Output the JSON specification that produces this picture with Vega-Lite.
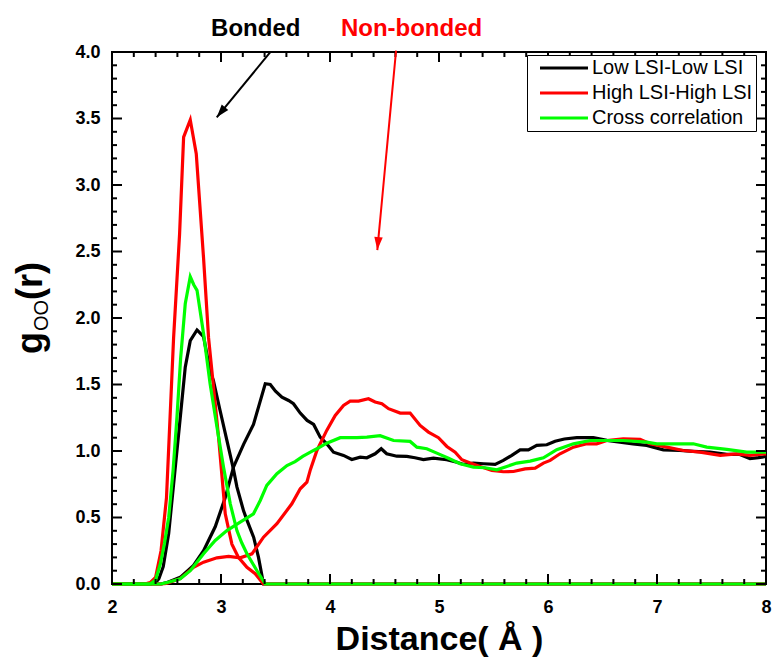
{
  "$schema": "https://vega.github.io/schema/vega-lite/v6.json",
  "width": 654,
  "height": 532,
  "autosize": {"type": "none"},
  "padding": {"left": 112, "top": 52, "right": 9, "bottom": 75},
  "background": "white",
  "datasets": {
    "xmajor": [{"v":2},{"v":3},{"v":4},{"v":5},{"v":6},{"v":7},{"v":8}],
    "xminor": [{"v":2.2},{"v":2.4},{"v":2.6},{"v":2.8},{"v":3.2},{"v":3.4},{"v":3.6},{"v":3.8},{"v":4.2},{"v":4.4},{"v":4.6},{"v":4.8},{"v":5.2},{"v":5.4},{"v":5.6},{"v":5.8},{"v":6.2},{"v":6.4},{"v":6.6},{"v":6.8},{"v":7.2},{"v":7.4},{"v":7.6},{"v":7.8}],
    "ymajor": [{"v":0},{"v":0.5},{"v":1},{"v":1.5},{"v":2},{"v":2.5},{"v":3},{"v":3.5},{"v":4}],
    "yminor": [{"v":0.1},{"v":0.2},{"v":0.3},{"v":0.4},{"v":0.6},{"v":0.7},{"v":0.8},{"v":0.9},{"v":1.1},{"v":1.2},{"v":1.3},{"v":1.4},{"v":1.6},{"v":1.7},{"v":1.8},{"v":1.9},{"v":2.1},{"v":2.2},{"v":2.3},{"v":2.4},{"v":2.6},{"v":2.7},{"v":2.8},{"v":2.9},{"v":3.1},{"v":3.2},{"v":3.3},{"v":3.4},{"v":3.6},{"v":3.7},{"v":3.8},{"v":3.9}],
    "curves": [
      {"series":"Low LSI-Low LSI","kind":"b","x":2.0,"y":0},{"series":"Low LSI-Low LSI","kind":"b","x":2.35,"y":0},{"series":"Low LSI-Low LSI","kind":"b","x":2.40,"y":0.01},{"series":"Low LSI-Low LSI","kind":"b","x":2.43,"y":0.04},{"series":"Low LSI-Low LSI","kind":"b","x":2.47,"y":0.13},{"series":"Low LSI-Low LSI","kind":"b","x":2.52,"y":0.38},{"series":"Low LSI-Low LSI","kind":"b","x":2.565,"y":0.75},{"series":"Low LSI-Low LSI","kind":"b","x":2.62,"y":1.2},{"series":"Low LSI-Low LSI","kind":"b","x":2.672,"y":1.63},{"series":"Low LSI-Low LSI","kind":"b","x":2.718,"y":1.83},{"series":"Low LSI-Low LSI","kind":"b","x":2.78,"y":1.91},{"series":"Low LSI-Low LSI","kind":"b","x":2.84,"y":1.86},{"series":"Low LSI-Low LSI","kind":"b","x":2.90,"y":1.6},{"series":"Low LSI-Low LSI","kind":"b","x":2.93,"y":1.53},{"series":"Low LSI-Low LSI","kind":"b","x":2.99,"y":1.31},{"series":"Low LSI-Low LSI","kind":"b","x":3.054,"y":1.08},{"series":"Low LSI-Low LSI","kind":"b","x":3.115,"y":0.86},{"series":"Low LSI-Low LSI","kind":"b","x":3.146,"y":0.73},{"series":"Low LSI-Low LSI","kind":"b","x":3.207,"y":0.55},{"series":"Low LSI-Low LSI","kind":"b","x":3.238,"y":0.48},{"series":"Low LSI-Low LSI","kind":"b","x":3.30,"y":0.35},{"series":"Low LSI-Low LSI","kind":"b","x":3.344,"y":0.2},{"series":"Low LSI-Low LSI","kind":"b","x":3.39,"y":0},{"series":"Low LSI-Low LSI","kind":"b","x":8.0,"y":0},
      {"series":"Low LSI-Low LSI","kind":"n","x":2.0,"y":0},{"series":"Low LSI-Low LSI","kind":"n","x":2.45,"y":0},{"series":"Low LSI-Low LSI","kind":"n","x":2.5,"y":0.01},{"series":"Low LSI-Low LSI","kind":"n","x":2.626,"y":0.05},{"series":"Low LSI-Low LSI","kind":"n","x":2.748,"y":0.14},{"series":"Low LSI-Low LSI","kind":"n","x":2.84,"y":0.25},{"series":"Low LSI-Low LSI","kind":"n","x":2.947,"y":0.43},{"series":"Low LSI-Low LSI","kind":"n","x":3.039,"y":0.65},{"series":"Low LSI-Low LSI","kind":"n","x":3.115,"y":0.88},{"series":"Low LSI-Low LSI","kind":"n","x":3.207,"y":1.05},{"series":"Low LSI-Low LSI","kind":"n","x":3.298,"y":1.2},{"series":"Low LSI-Low LSI","kind":"n","x":3.344,"y":1.33},{"series":"Low LSI-Low LSI","kind":"n","x":3.406,"y":1.506},{"series":"Low LSI-Low LSI","kind":"n","x":3.452,"y":1.5},{"series":"Low LSI-Low LSI","kind":"n","x":3.5,"y":1.45},{"series":"Low LSI-Low LSI","kind":"n","x":3.559,"y":1.405},{"series":"Low LSI-Low LSI","kind":"n","x":3.62,"y":1.38},{"series":"Low LSI-Low LSI","kind":"n","x":3.665,"y":1.355},{"series":"Low LSI-Low LSI","kind":"n","x":3.727,"y":1.285},{"series":"Low LSI-Low LSI","kind":"n","x":3.79,"y":1.23},{"series":"Low LSI-Low LSI","kind":"n","x":3.85,"y":1.2},{"series":"Low LSI-Low LSI","kind":"n","x":3.91,"y":1.104},{"series":"Low LSI-Low LSI","kind":"n","x":3.97,"y":1.054},{"series":"Low LSI-Low LSI","kind":"n","x":4.032,"y":0.991},{"series":"Low LSI-Low LSI","kind":"n","x":4.124,"y":0.967},{"series":"Low LSI-Low LSI","kind":"n","x":4.2,"y":0.936},{"series":"Low LSI-Low LSI","kind":"n","x":4.277,"y":0.954},{"series":"Low LSI-Low LSI","kind":"n","x":4.338,"y":0.949},{"series":"Low LSI-Low LSI","kind":"n","x":4.414,"y":0.979},{"series":"Low LSI-Low LSI","kind":"n","x":4.47,"y":1.017},{"series":"Low LSI-Low LSI","kind":"n","x":4.52,"y":0.979},{"series":"Low LSI-Low LSI","kind":"n","x":4.613,"y":0.961},{"series":"Low LSI-Low LSI","kind":"n","x":4.705,"y":0.959},{"series":"Low LSI-Low LSI","kind":"n","x":4.78,"y":0.949},{"series":"Low LSI-Low LSI","kind":"n","x":4.857,"y":0.936},{"series":"Low LSI-Low LSI","kind":"n","x":4.949,"y":0.946},{"series":"Low LSI-Low LSI","kind":"n","x":5.07,"y":0.934},{"series":"Low LSI-Low LSI","kind":"n","x":5.164,"y":0.916},{"series":"Low LSI-Low LSI","kind":"n","x":5.225,"y":0.899},{"series":"Low LSI-Low LSI","kind":"n","x":5.316,"y":0.909},{"series":"Low LSI-Low LSI","kind":"n","x":5.41,"y":0.904},{"series":"Low LSI-Low LSI","kind":"n","x":5.515,"y":0.899},{"series":"Low LSI-Low LSI","kind":"n","x":5.59,"y":0.929},{"series":"Low LSI-Low LSI","kind":"n","x":5.668,"y":0.967},{"series":"Low LSI-Low LSI","kind":"n","x":5.744,"y":1.009},{"series":"Low LSI-Low LSI","kind":"n","x":5.82,"y":1.009},{"series":"Low LSI-Low LSI","kind":"n","x":5.897,"y":1.042},{"series":"Low LSI-Low LSI","kind":"n","x":5.989,"y":1.047},{"series":"Low LSI-Low LSI","kind":"n","x":6.065,"y":1.074},{"series":"Low LSI-Low LSI","kind":"n","x":6.15,"y":1.09},{"series":"Low LSI-Low LSI","kind":"n","x":6.264,"y":1.1},{"series":"Low LSI-Low LSI","kind":"n","x":6.416,"y":1.1},{"series":"Low LSI-Low LSI","kind":"n","x":6.54,"y":1.08},{"series":"Low LSI-Low LSI","kind":"n","x":6.66,"y":1.067},{"series":"Low LSI-Low LSI","kind":"n","x":6.78,"y":1.054},{"series":"Low LSI-Low LSI","kind":"n","x":6.906,"y":1.042},{"series":"Low LSI-Low LSI","kind":"n","x":7.058,"y":1.009},{"series":"Low LSI-Low LSI","kind":"n","x":7.21,"y":1.004},{"series":"Low LSI-Low LSI","kind":"n","x":7.333,"y":0.997},{"series":"Low LSI-Low LSI","kind":"n","x":7.486,"y":0.991},{"series":"Low LSI-Low LSI","kind":"n","x":7.64,"y":0.974},{"series":"Low LSI-Low LSI","kind":"n","x":7.76,"y":0.974},{"series":"Low LSI-Low LSI","kind":"n","x":7.853,"y":0.942},{"series":"Low LSI-Low LSI","kind":"n","x":7.93,"y":0.95},{"series":"Low LSI-Low LSI","kind":"n","x":8.0,"y":0.959},
      {"series":"High LSI-High LSI","kind":"b","x":2.0,"y":0},{"series":"High LSI-High LSI","kind":"b","x":2.3,"y":0},{"series":"High LSI-High LSI","kind":"b","x":2.35,"y":0.01},{"series":"High LSI-High LSI","kind":"b","x":2.4,"y":0.05},{"series":"High LSI-High LSI","kind":"b","x":2.45,"y":0.25},{"series":"High LSI-High LSI","kind":"b","x":2.5,"y":0.65},{"series":"High LSI-High LSI","kind":"b","x":2.565,"y":1.85},{"series":"High LSI-High LSI","kind":"b","x":2.62,"y":2.63},{"series":"High LSI-High LSI","kind":"b","x":2.657,"y":3.36},{"series":"High LSI-High LSI","kind":"b","x":2.718,"y":3.49},{"series":"High LSI-High LSI","kind":"b","x":2.773,"y":3.236},{"series":"High LSI-High LSI","kind":"b","x":2.84,"y":2.45},{"series":"High LSI-High LSI","kind":"b","x":2.886,"y":1.85},{"series":"High LSI-High LSI","kind":"b","x":2.978,"y":1.1},{"series":"High LSI-High LSI","kind":"b","x":3.039,"y":0.528},{"series":"High LSI-High LSI","kind":"b","x":3.1,"y":0.3},{"series":"High LSI-High LSI","kind":"b","x":3.16,"y":0.2},{"series":"High LSI-High LSI","kind":"b","x":3.238,"y":0.126},{"series":"High LSI-High LSI","kind":"b","x":3.314,"y":0.077},{"series":"High LSI-High LSI","kind":"b","x":3.36,"y":0.03},{"series":"High LSI-High LSI","kind":"b","x":3.39,"y":0},{"series":"High LSI-High LSI","kind":"b","x":8.0,"y":0},
      {"series":"High LSI-High LSI","kind":"n","x":2.0,"y":0},{"series":"High LSI-High LSI","kind":"n","x":2.45,"y":0},{"series":"High LSI-High LSI","kind":"n","x":2.5,"y":0.005},{"series":"High LSI-High LSI","kind":"n","x":2.626,"y":0.04},{"series":"High LSI-High LSI","kind":"n","x":2.748,"y":0.126},{"series":"High LSI-High LSI","kind":"n","x":2.84,"y":0.164},{"series":"High LSI-High LSI","kind":"n","x":2.963,"y":0.197},{"series":"High LSI-High LSI","kind":"n","x":3.07,"y":0.207},{"series":"High LSI-High LSI","kind":"n","x":3.176,"y":0.197},{"series":"High LSI-High LSI","kind":"n","x":3.284,"y":0.227},{"series":"High LSI-High LSI","kind":"n","x":3.39,"y":0.352},{"series":"High LSI-High LSI","kind":"n","x":3.513,"y":0.453},{"series":"High LSI-High LSI","kind":"n","x":3.65,"y":0.603},{"series":"High LSI-High LSI","kind":"n","x":3.727,"y":0.716},{"series":"High LSI-High LSI","kind":"n","x":3.788,"y":0.766},{"series":"High LSI-High LSI","kind":"n","x":3.82,"y":0.86},{"series":"High LSI-High LSI","kind":"n","x":3.88,"y":1.004},{"series":"High LSI-High LSI","kind":"n","x":3.97,"y":1.155},{"series":"High LSI-High LSI","kind":"n","x":4.048,"y":1.267},{"series":"High LSI-High LSI","kind":"n","x":4.124,"y":1.343},{"series":"High LSI-High LSI","kind":"n","x":4.185,"y":1.375},{"series":"High LSI-High LSI","kind":"n","x":4.262,"y":1.375},{"series":"High LSI-High LSI","kind":"n","x":4.353,"y":1.393},{"series":"High LSI-High LSI","kind":"n","x":4.414,"y":1.368},{"series":"High LSI-High LSI","kind":"n","x":4.476,"y":1.355},{"series":"High LSI-High LSI","kind":"n","x":4.537,"y":1.318},{"series":"High LSI-High LSI","kind":"n","x":4.644,"y":1.285},{"series":"High LSI-High LSI","kind":"n","x":4.735,"y":1.285},{"series":"High LSI-High LSI","kind":"n","x":4.827,"y":1.192},{"series":"High LSI-High LSI","kind":"n","x":4.903,"y":1.142},{"series":"High LSI-High LSI","kind":"n","x":4.995,"y":1.1},{"series":"High LSI-High LSI","kind":"n","x":5.072,"y":1.034},{"series":"High LSI-High LSI","kind":"n","x":5.148,"y":0.991},{"series":"High LSI-High LSI","kind":"n","x":5.21,"y":0.934},{"series":"High LSI-High LSI","kind":"n","x":5.286,"y":0.909},{"series":"High LSI-High LSI","kind":"n","x":5.377,"y":0.884},{"series":"High LSI-High LSI","kind":"n","x":5.485,"y":0.854},{"series":"High LSI-High LSI","kind":"n","x":5.59,"y":0.844},{"series":"High LSI-High LSI","kind":"n","x":5.683,"y":0.846},{"series":"High LSI-High LSI","kind":"n","x":5.79,"y":0.866},{"series":"High LSI-High LSI","kind":"n","x":5.882,"y":0.871},{"series":"High LSI-High LSI","kind":"n","x":5.958,"y":0.909},{"series":"High LSI-High LSI","kind":"n","x":6.02,"y":0.929},{"series":"High LSI-High LSI","kind":"n","x":6.11,"y":0.979},{"series":"High LSI-High LSI","kind":"n","x":6.233,"y":1.029},{"series":"High LSI-High LSI","kind":"n","x":6.356,"y":1.054},{"series":"High LSI-High LSI","kind":"n","x":6.447,"y":1.054},{"series":"High LSI-High LSI","kind":"n","x":6.54,"y":1.079},{"series":"High LSI-High LSI","kind":"n","x":6.69,"y":1.092},{"series":"High LSI-High LSI","kind":"n","x":6.845,"y":1.087},{"series":"High LSI-High LSI","kind":"n","x":6.936,"y":1.054},{"series":"High LSI-High LSI","kind":"n","x":7.09,"y":1.029},{"series":"High LSI-High LSI","kind":"n","x":7.242,"y":1.004},{"series":"High LSI-High LSI","kind":"n","x":7.395,"y":0.991},{"series":"High LSI-High LSI","kind":"n","x":7.58,"y":0.967},{"series":"High LSI-High LSI","kind":"n","x":7.73,"y":0.979},{"series":"High LSI-High LSI","kind":"n","x":7.854,"y":0.967},{"series":"High LSI-High LSI","kind":"n","x":8.0,"y":0.979},
      {"series":"Cross correlation","kind":"b","x":2.0,"y":0},{"series":"Cross correlation","kind":"b","x":2.35,"y":0},{"series":"Cross correlation","kind":"b","x":2.4,"y":0.03},{"series":"Cross correlation","kind":"b","x":2.443,"y":0.15},{"series":"Cross correlation","kind":"b","x":2.48,"y":0.3},{"series":"Cross correlation","kind":"b","x":2.52,"y":0.5},{"series":"Cross correlation","kind":"b","x":2.56,"y":0.85},{"series":"Cross correlation","kind":"b","x":2.596,"y":1.255},{"series":"Cross correlation","kind":"b","x":2.63,"y":1.7},{"series":"Cross correlation","kind":"b","x":2.672,"y":2.107},{"series":"Cross correlation","kind":"b","x":2.718,"y":2.31},{"series":"Cross correlation","kind":"b","x":2.75,"y":2.25},{"series":"Cross correlation","kind":"b","x":2.78,"y":2.208},{"series":"Cross correlation","kind":"b","x":2.84,"y":1.882},{"series":"Cross correlation","kind":"b","x":2.9,"y":1.506},{"series":"Cross correlation","kind":"b","x":2.963,"y":1.18},{"series":"Cross correlation","kind":"b","x":3.023,"y":0.879},{"series":"Cross correlation","kind":"b","x":3.085,"y":0.603},{"series":"Cross correlation","kind":"b","x":3.146,"y":0.402},{"series":"Cross correlation","kind":"b","x":3.19,"y":0.31},{"series":"Cross correlation","kind":"b","x":3.238,"y":0.227},{"series":"Cross correlation","kind":"b","x":3.33,"y":0.1},{"series":"Cross correlation","kind":"b","x":3.406,"y":0},{"series":"Cross correlation","kind":"b","x":8.0,"y":0},
      {"series":"Cross correlation","kind":"n","x":2.0,"y":0},{"series":"Cross correlation","kind":"n","x":2.45,"y":0},{"series":"Cross correlation","kind":"n","x":2.5,"y":0.01},{"series":"Cross correlation","kind":"n","x":2.626,"y":0.04},{"series":"Cross correlation","kind":"n","x":2.718,"y":0.1},{"series":"Cross correlation","kind":"n","x":2.84,"y":0.227},{"series":"Cross correlation","kind":"n","x":2.947,"y":0.327},{"series":"Cross correlation","kind":"n","x":3.054,"y":0.402},{"series":"Cross correlation","kind":"n","x":3.176,"y":0.465},{"series":"Cross correlation","kind":"n","x":3.298,"y":0.528},{"series":"Cross correlation","kind":"n","x":3.36,"y":0.628},{"series":"Cross correlation","kind":"n","x":3.42,"y":0.741},{"series":"Cross correlation","kind":"n","x":3.513,"y":0.829},{"series":"Cross correlation","kind":"n","x":3.605,"y":0.891},{"series":"Cross correlation","kind":"n","x":3.68,"y":0.92},{"series":"Cross correlation","kind":"n","x":3.75,"y":0.96},{"series":"Cross correlation","kind":"n","x":3.849,"y":1.004},{"series":"Cross correlation","kind":"n","x":3.88,"y":1.017},{"series":"Cross correlation","kind":"n","x":3.97,"y":1.059},{"series":"Cross correlation","kind":"n","x":4.094,"y":1.1},{"series":"Cross correlation","kind":"n","x":4.247,"y":1.1},{"series":"Cross correlation","kind":"n","x":4.338,"y":1.104},{"series":"Cross correlation","kind":"n","x":4.46,"y":1.115},{"series":"Cross correlation","kind":"n","x":4.583,"y":1.079},{"series":"Cross correlation","kind":"n","x":4.735,"y":1.072},{"series":"Cross correlation","kind":"n","x":4.797,"y":1.029},{"series":"Cross correlation","kind":"n","x":4.888,"y":1.017},{"series":"Cross correlation","kind":"n","x":4.98,"y":0.984},{"series":"Cross correlation","kind":"n","x":5.087,"y":0.946},{"series":"Cross correlation","kind":"n","x":5.194,"y":0.904},{"series":"Cross correlation","kind":"n","x":5.316,"y":0.879},{"series":"Cross correlation","kind":"n","x":5.423,"y":0.874},{"series":"Cross correlation","kind":"n","x":5.53,"y":0.859},{"series":"Cross correlation","kind":"n","x":5.622,"y":0.884},{"series":"Cross correlation","kind":"n","x":5.714,"y":0.909},{"series":"Cross correlation","kind":"n","x":5.836,"y":0.924},{"series":"Cross correlation","kind":"n","x":5.958,"y":0.949},{"series":"Cross correlation","kind":"n","x":6.08,"y":1.01},{"series":"Cross correlation","kind":"n","x":6.233,"y":1.054},{"series":"Cross correlation","kind":"n","x":6.386,"y":1.079},{"series":"Cross correlation","kind":"n","x":6.54,"y":1.079},{"series":"Cross correlation","kind":"n","x":6.69,"y":1.079},{"series":"Cross correlation","kind":"n","x":6.906,"y":1.067},{"series":"Cross correlation","kind":"n","x":6.998,"y":1.054},{"series":"Cross correlation","kind":"n","x":7.15,"y":1.054},{"series":"Cross correlation","kind":"n","x":7.333,"y":1.054},{"series":"Cross correlation","kind":"n","x":7.456,"y":1.029},{"series":"Cross correlation","kind":"n","x":7.64,"y":1.012},{"series":"Cross correlation","kind":"n","x":7.823,"y":0.991},{"series":"Cross correlation","kind":"n","x":8.0,"y":0.991}
    ]
  },
  "config": {
    "font": "Liberation Sans",
    "view": {"stroke": "black", "strokeWidth": 2},
    "axis": {"domain": false, "grid": false, "labelColor": "black", "titleColor": "black"}
  },
  "layer": [
    {
      "data": {"name": "curves"},
      "mark": {"type": "line", "strokeWidth": 3.2, "clip": false},
      "encoding": {
        "x": {"field": "x", "type": "quantitative", "scale": {"domain": [2, 8], "nice": false, "zero": false},
          "axis": {"orient": "bottom", "values": [2,3,4,5,6,7,8], "format": "d", "ticks": false, "labelFontSize": 18, "labelFontWeight": "bold", "labelPadding": 14, "labelFlush": false, "labelOverlap": false, "title": "Distance( Å )", "titleFontSize": 34, "titleFontWeight": "bold", "titlePadding": 6}},
        "y": {"field": "y", "type": "quantitative", "scale": {"domain": [0, 4], "nice": false, "zero": false},
          "axis": {"orient": "left", "values": [0,0.5,1,1.5,2,2.5,3,3.5,4], "format": ".1f", "ticks": false, "labelFontSize": 18, "labelFontWeight": "bold", "labelPadding": 12, "labelOverlap": false, "title": null}},
        "color": {"field": "series", "type": "nominal",
          "scale": {"domain": ["Low LSI-Low LSI", "High LSI-High LSI", "Cross correlation"], "range": ["#000000", "#ff0000", "#00ff00"]},
          "legend": {"orient": "none", "legendX": 415, "legendY": 3, "title": null, "symbolType": "M-3,0H3", "symbolSize": 256, "symbolStrokeWidth": 3, "labelFontSize": 20, "labelFont": "Liberation Sans", "labelColor": "black", "padding": 3, "rowPadding": 5, "symbolOffset": 24, "labelOffset": 18, "strokeColor": "black", "fillColor": "white", "labelLimit": 300}},
        "detail": {"field": "kind", "type": "nominal"}
      }
    },
    {
      "data": {"name": "xmajor"},
      "mark": {"type": "rule", "color": "black", "strokeWidth": 2},
      "encoding": {"x": {"field": "v", "type": "quantitative"}, "y": {"datum": 0, "type": "quantitative"}, "y2": {"datum": 0.0752}}
    },
    {
      "data": {"name": "xmajor"},
      "mark": {"type": "rule", "color": "black", "strokeWidth": 2},
      "encoding": {"x": {"field": "v", "type": "quantitative"}, "y": {"datum": 4, "type": "quantitative"}, "y2": {"datum": 3.9248}}
    },
    {
      "data": {"name": "xminor"},
      "mark": {"type": "rule", "color": "black", "strokeWidth": 2},
      "encoding": {"x": {"field": "v", "type": "quantitative"}, "y": {"datum": 0, "type": "quantitative"}, "y2": {"datum": 0.0376}}
    },
    {
      "data": {"name": "xminor"},
      "mark": {"type": "rule", "color": "black", "strokeWidth": 2},
      "encoding": {"x": {"field": "v", "type": "quantitative"}, "y": {"datum": 4, "type": "quantitative"}, "y2": {"datum": 3.9624}}
    },
    {
      "data": {"name": "ymajor"},
      "mark": {"type": "rule", "color": "black", "strokeWidth": 2},
      "encoding": {"y": {"field": "v", "type": "quantitative"}, "x": {"datum": 2, "type": "quantitative"}, "x2": {"datum": 2.0917}}
    },
    {
      "data": {"name": "ymajor"},
      "mark": {"type": "rule", "color": "black", "strokeWidth": 2},
      "encoding": {"y": {"field": "v", "type": "quantitative"}, "x": {"datum": 8, "type": "quantitative"}, "x2": {"datum": 7.9083}}
    },
    {
      "data": {"name": "yminor"},
      "mark": {"type": "rule", "color": "black", "strokeWidth": 2},
      "encoding": {"y": {"field": "v", "type": "quantitative"}, "x": {"datum": 2, "type": "quantitative"}, "x2": {"datum": 2.0459}}
    },
    {
      "data": {"name": "yminor"},
      "mark": {"type": "rule", "color": "black", "strokeWidth": 2},
      "encoding": {"y": {"field": "v", "type": "quantitative"}, "x": {"datum": 8, "type": "quantitative"}, "x2": {"datum": 7.9541}}
    },
    {
      "data": {"values": [{"x": 3.456, "y": 4.002, "x2": 2.961, "y2": 3.509}]},
      "mark": {"type": "rule", "color": "black", "strokeWidth": 2},
      "encoding": {
        "x": {"field": "x", "type": "quantitative"},
        "y": {"field": "y", "type": "quantitative"},
        "x2": {"field": "x2"},
        "y2": {"field": "y2"}
      }
    },
    {
      "data": {"values": [{"x": 4.606, "y": 4.01, "x2": 4.434, "y2": 2.511}]},
      "mark": {"type": "rule", "color": "#ff0000", "strokeWidth": 2},
      "encoding": {
        "x": {"field": "x", "type": "quantitative"},
        "y": {"field": "y", "type": "quantitative"},
        "x2": {"field": "x2"},
        "y2": {"field": "y2"}
      }
    },
    {
      "data": {"values": [{"x": 2.961, "y": 3.509}]},
      "mark": {"type": "point", "shape": "M0,0L-0.65,2L0.65,2Z", "size": 169, "filled": true, "color": "black", "opacity": 1, "angle": 219.4},
      "encoding": {
        "x": {"field": "x", "type": "quantitative"},
        "y": {"field": "y", "type": "quantitative"}
      }
    },
    {
      "data": {"values": [{"x": 4.434, "y": 2.511}]},
      "mark": {"type": "point", "shape": "M0,0L-0.65,2L0.65,2Z", "size": 169, "filled": true, "color": "#ff0000", "opacity": 1, "angle": 185.4},
      "encoding": {
        "x": {"field": "x", "type": "quantitative"},
        "y": {"field": "y", "type": "quantitative"}
      }
    },
    {
      "data": {"values": [{"x": 3.319, "y": 4.12, "text": "Bonded"}]},
      "mark": {"type": "text", "fontSize": 24, "fontWeight": "bold", "color": "black", "align": "center", "baseline": "alphabetic"},
      "encoding": {
        "x": {"field": "x", "type": "quantitative"},
        "y": {"field": "y", "type": "quantitative"},
        "text": {"field": "text"}
      }
    },
    {
      "data": {"values": [{"x": 4.748, "y": 4.12, "text": "Non-bonded"}]},
      "mark": {"type": "text", "fontSize": 24, "fontWeight": "bold", "color": "#ff0000", "align": "center", "baseline": "alphabetic"},
      "encoding": {
        "x": {"field": "x", "type": "quantitative"},
        "y": {"field": "y", "type": "quantitative"},
        "text": {"field": "text"}
      }
    },
    {
      "data": {"values": [{"x": 1.358, "y": 1.729, "text": "g"}, {"x": 1.358, "y": 2.135, "text": "(r)"}]},
      "mark": {"type": "text", "fontSize": 36, "fontWeight": "bold", "color": "black", "align": "left", "baseline": "alphabetic", "angle": 270},
      "encoding": {
        "x": {"field": "x", "type": "quantitative"},
        "y": {"field": "y", "type": "quantitative"},
        "text": {"field": "text"}
      }
    },
    {
      "data": {"values": [{"x": 1.413, "y": 1.902, "text": "OO"}]},
      "mark": {"type": "text", "fontSize": 20, "fontWeight": "normal", "color": "black", "align": "left", "baseline": "alphabetic", "angle": 270},
      "encoding": {
        "x": {"field": "x", "type": "quantitative"},
        "y": {"field": "y", "type": "quantitative"},
        "text": {"field": "text"}
      }
    }
  ]
}
